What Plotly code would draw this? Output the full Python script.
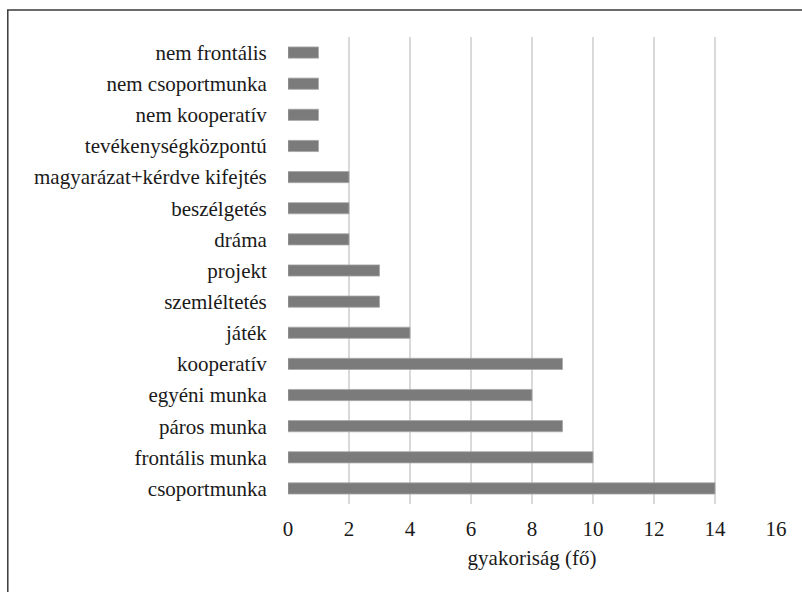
import plotly.graph_objects as go

# Teaching methods (top to bottom) and how many respondents named them
methods = [
    "nem frontális",
    "nem csoportmunka",
    "nem kooperatív",
    "tevékenységközpontú",
    "magyarázat+kérdve kifejtés",
    "beszélgetés",
    "dráma",
    "projekt",
    "szemléltetés",
    "játék",
    "kooperatív",
    "egyéni munka",
    "páros munka",
    "frontális munka",
    "csoportmunka",
]
counts = [1, 1, 1, 1, 2, 2, 2, 3, 3, 4, 9, 8, 9, 10, 14]
x_ticks = [0, 2, 4, 6, 8, 10, 12, 14, 16]
x_title = "gyakoriság (fő)"

FONT = '"Liberation Serif", "Times New Roman", serif'

fig = go.Figure(
    go.Bar(
        x=counts,
        y=methods,
        orientation="h",
        marker=dict(color="#7b7b7b", line=dict(color="#a8a8a8", width=0.8)),
        width=0.36,
    )
)

W, H = 802, 592
L, R, T, B = 287.5, 26, 37, 88
pw, ph = W - L - R, H - T - B

fig.update_layout(
    width=W,
    height=H,
    margin=dict(l=L, r=R, t=T, b=B, pad=0),
    paper_bgcolor="white",
    plot_bgcolor="white",
    font=dict(family=FONT, size=21, color="#1a1a1a"),
    showlegend=False,
    xaxis=dict(
        range=[0, 16],
        tickvals=x_ticks,
        showgrid=True,
        gridcolor="#d9d9d9",
        gridwidth=1.5,
        zeroline=False,
        showline=False,
        ticks="outside",
        ticklen=6,
        tickcolor="rgba(0,0,0,0)",
        tickfont=dict(family=FONT, size=21),
        title=dict(text=x_title, font=dict(family=FONT, size=21), standoff=10),
    ),
    yaxis=dict(
        autorange="reversed",
        showgrid=False,
        zeroline=False,
        showline=False,
        ticks="outside",
        ticklen=16,
        tickcolor="rgba(0,0,0,0)",
        tickfont=dict(family=FONT, size=21),
    ),
)

# Frame around the figure (open towards the right and bottom edges)
px = lambda v: (v - L) / pw
py = lambda v: (H - B - v) / ph
fig.add_shape(
    type="rect",
    xref="paper",
    yref="paper",
    x0=px(7),
    x1=px(812),
    y0=py(602),
    y1=py(10),
    line=dict(color="#3a3a3a", width=1.5),
    fillcolor="rgba(0,0,0,0)",
    layer="above",
)

fig.write_html("out.html")
